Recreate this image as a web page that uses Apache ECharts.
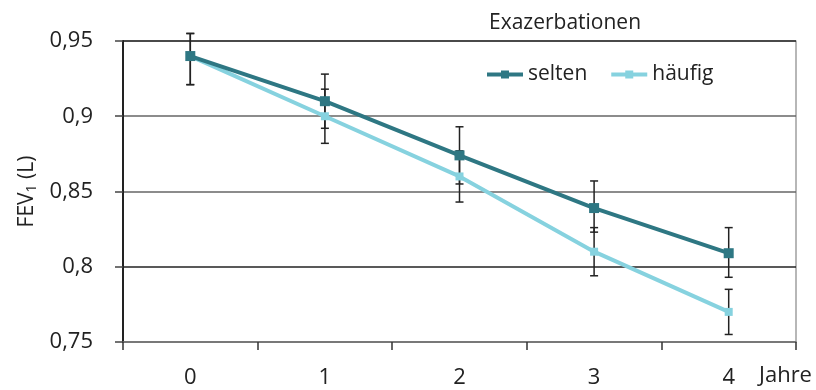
<!DOCTYPE html>
<html>
<head>
<meta charset="utf-8">
<script src="https://cdn.jsdelivr.net/npm/echarts@6/dist/echarts.min.js"></script>
<style>html,body{margin:0;padding:0;background:#fff}#c{width:816px;height:390px}</style>
</head>
<body>
<div id="c"></div>
<script>
var categories = ['0', '1', '2', '3', '4'];
var selten = [0.94, 0.91, 0.874, 0.839, 0.809];
var haeufig = [0.94, 0.90, 0.86, 0.81, 0.77];
var seltenLow = [0.921, 0.892, 0.855, 0.823, 0.793];
var seltenHigh = [0.955, 0.928, 0.893, 0.857, 0.826];
var haeufigLow = [0.921, 0.882, 0.843, 0.794, 0.755];
var haeufigHigh = [0.955, 0.918, 0.877, 0.826, 0.785];
var yTickLabels = ['0,75', '0,8', '0,85', '0,9', '0,95'];

var FONT = '"Open Sans", "Noto Sans", sans-serif';
var C_SELTEN = '#2E7783';
var C_HAEUFIG = '#86D2DF';

function errData(lo, hi) {
  return categories.map(function (c, i) { return [i, lo[i], hi[i]]; });
}
function renderErr(params, api) {
  var x = api.value(0);
  var p1 = api.coord([x, api.value(1)]);
  var p2 = api.coord([x, api.value(2)]);
  var w = 4;
  var st = { stroke: '#222', lineWidth: 1.5 };
  return {
    type: 'group',
    children: [
      { type: 'line', shape: { x1: p1[0], y1: p1[1], x2: p2[0], y2: p2[1] }, style: st },
      { type: 'line', shape: { x1: p1[0] - w, y1: p1[1], x2: p1[0] + w, y2: p1[1] }, style: st },
      { type: 'line', shape: { x1: p2[0] - w, y1: p2[1], x2: p2[0] + w, y2: p2[1] }, style: st }
    ]
  };
}

var chart = echarts.init(document.getElementById('c'), null, { renderer: 'canvas' });
chart.setOption({
  animation: false,
  textStyle: { fontFamily: FONT },
  title: {
    text: 'Exazerbationen',
    left: 484, top: 8,
    textStyle: { fontFamily: FONT, fontSize: 21, fontWeight: 'normal', color: '#222' }
  },
  legend: {
    data: ['selten', 'häufig'],
    left: 480, top: 59,
    itemWidth: 36, itemHeight: 10, itemGap: 22,
    lineStyle: { width: 4 },
    textStyle: { fontFamily: FONT, fontSize: 21, color: '#222' }
  },
  grid: { left: 123, right: 20, top: 41, bottom: 48, show: true, borderColor: '#888', borderWidth: 1.2, backgroundColor: 'transparent' },
  xAxis: {
    type: 'category',
    data: categories,
    boundaryGap: true,
    axisLine: { lineStyle: { color: '#777', width: 1.5 } },
    axisTick: { show: true, length: 8, lineStyle: { color: '#333', width: 1.5 } },
    axisLabel: { fontFamily: FONT, fontSize: 22, color: '#222', margin: 25 },
    splitLine: { show: false }
  },
  yAxis: {
    type: 'value',
    min: 0.75, max: 0.95, interval: 0.05,
    name: '{a|FEV}{s|1}{a| (L)}',
    nameLocation: 'middle',
    nameGap: 82,
    nameRotate: 90,
    nameTextStyle: {
      rich: {
        a: { fontFamily: FONT, fontSize: 21, color: '#222' },
        s: { fontFamily: FONT, fontSize: 14, color: '#222', verticalAlign: 'bottom', padding: [9, 0, 0, 0] }
      }
    },
    axisLine: { show: true, lineStyle: { color: '#222', width: 2 } },
    axisTick: { show: true, length: 8, lineStyle: { color: '#444', width: 1.5 } },
    axisLabel: {
      fontFamily: FONT, fontSize: 22, color: '#222', margin: 30,
      formatter: function (v, i) { return yTickLabels[i]; }
    },
    splitLine: { show: true, lineStyle: { color: ['#666', '#222', '#666', '#666', '#222'], width: 1.5 } }
  },
  graphic: [{
    type: 'text', left: 759, top: 365,
    style: { text: 'Jahre', fontFamily: FONT, fontSize: 22, fill: '#222' }
  }],
  series: [
    { name: 'errS', type: 'custom', renderItem: renderErr, data: errData(seltenLow, seltenHigh), z: 1, silent: true },
    { name: 'errH', type: 'custom', renderItem: renderErr, data: errData(haeufigLow, haeufigHigh), z: 1, silent: true },
    {
      name: 'selten', type: 'line', data: selten, z: 3,
      symbol: 'rect', symbolSize: 10, showAllSymbol: true,
      lineStyle: { color: C_SELTEN, width: 4 },
      itemStyle: { color: C_SELTEN }
    },
    {
      name: 'häufig', type: 'line', data: haeufig, z: 2,
      symbol: 'rect', symbolSize: 8, showAllSymbol: true,
      lineStyle: { color: C_HAEUFIG, width: 4 },
      itemStyle: { color: C_HAEUFIG }
    }
  ]
});
</script>
</body>
</html>
